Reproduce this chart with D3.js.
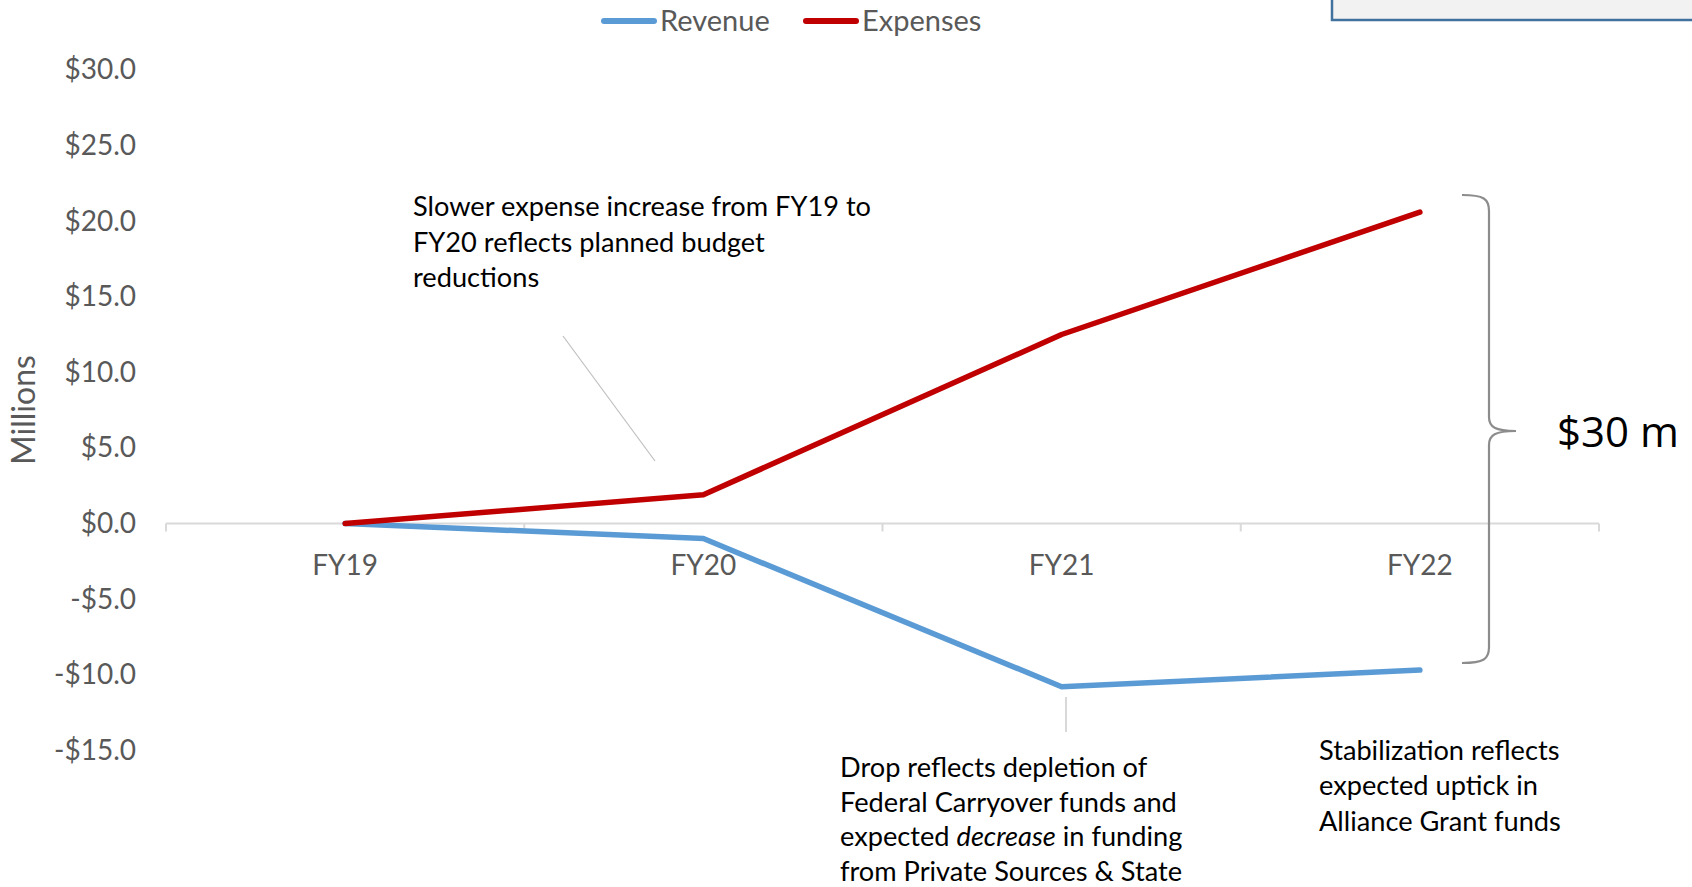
<!DOCTYPE html>
<html>
<head>
<meta charset="utf-8">
<script src="https://cdn.jsdelivr.net/npm/d3@7"></script>
<style>
  html, body { margin: 0; padding: 0; background: #fff; }
  svg { display: block; }
  text { font-family: "Lato", "Open Sans", sans-serif; }
</style>
</head>
<body>
<svg id="chart" width="1692" height="887"></svg>
<script>
// ---- data ----
const categories = ["FY19", "FY20", "FY21", "FY22"];
const revenue = [0.0, -1.0, -10.8, -9.7];
const expenses = [0.0, 1.9, 12.5, 20.6];
const yTicks = [30, 25, 20, 15, 10, 5, 0, -5, -10, -15];
const seriesNames = ["Revenue", "Expenses"];
const seriesColors = ["#5b9bd5", "#c00000"];
const noteTop = ["Slower expense increase from FY19 to", "FY20 reflects planned budget", "reductions"];
const noteDrop = [
  [["Drop reflects depletion of", false]],
  [["Federal Carryover funds and", false]],
  [["expected ", false], ["decrease", true], [" in funding", false]],
  [["from Private Sources & State", false]]
];
const noteStab = ["Stabilization reflects", "expected uptick in", "Alliance Grant funds"];
const bracketLabel = "$30 m";

// ---- layout ----
const svg = d3.select("#chart");
const x0 = 166, x1 = 1599;
const y = d3.scaleLinear().domain([-15, 30]).range([750.2, 70]);
const xBand = d3.scaleBand().domain(categories).range([x0, x1]);
const x = d3.scalePoint().domain(categories).range([x0, x1]).padding(0.5);

const axisColor = "#d9d9d9";
const labelColor = "#595959";
const noteSize = 27.2;

// top-right partial box
svg.append("rect")
  .attr("x", 1332).attr("y", -10).attr("width", 400).attr("height", 30)
  .attr("fill", "#f2f2f2").attr("stroke", "#41719c").attr("stroke-width", 2.5);

// y axis labels
const fmt = d => (d < 0 ? "-" : "") + "$" + Math.abs(d).toFixed(1);
const yAxis = d3.axisLeft(y).tickValues(yTicks).tickFormat(fmt).tickSize(0).tickPadding(0);
const gy = svg.append("g").attr("transform", "translate(136,0)").call(yAxis);
gy.select(".domain").remove();
gy.selectAll("text")
  .attr("fill", labelColor).attr("font-size", 28).style("font-family", "Lato, 'Open Sans', sans-serif");

// x axis (category axis at zero)
const gx = svg.append("g").attr("transform", `translate(0,${y(0)})`);
gx.append("line").attr("x1", x0).attr("x2", x1).attr("y1", 0).attr("y2", 0)
  .attr("stroke", axisColor).attr("stroke-width", 2);
const bounds = categories.map(c => xBand(c)).concat([x1]);
gx.selectAll("line.tick").data(bounds).enter().append("line")
  .attr("class", "tick")
  .attr("x1", d => d).attr("x2", d => d).attr("y1", 0).attr("y2", 8)
  .attr("stroke", axisColor).attr("stroke-width", 2);
gx.selectAll("text.cat").data(categories).enter().append("text")
  .attr("class", "cat")
  .attr("x", d => x(d)).attr("y", 52)
  .attr("text-anchor", "middle")
  .attr("fill", labelColor).attr("font-size", 28)
  .text(d => d);

// y title
svg.append("text")
  .attr("transform", "translate(35,410) rotate(-90)")
  .attr("text-anchor", "middle")
  .attr("fill", labelColor).attr("font-size", 32)
  .text("Millions");

// lines
const line = d3.line().x((d, i) => x(categories[i])).y(d => y(d));
[revenue, expenses].forEach((s, k) => {
  svg.append("path").datum(s)
    .attr("d", line)
    .attr("fill", "none")
    .attr("stroke", seriesColors[k])
    .attr("stroke-width", 5.5)
    .attr("stroke-linecap", "round")
    .attr("stroke-linejoin", "round");
});

// legend
const legendX = [604, 806];
seriesNames.forEach((n, k) => {
  const g = svg.append("g").attr("transform", `translate(${legendX[k]},21)`);
  g.append("line").attr("x1", 0).attr("x2", 50).attr("y1", 0).attr("y2", 0)
    .attr("stroke", seriesColors[k]).attr("stroke-width", 6).attr("stroke-linecap", "round");
  g.append("text").attr("x", 56).attr("y", 10)
    .attr("fill", labelColor).attr("font-size", 29).text(n);
});

// annotation: top note
const t1 = svg.append("text").attr("fill", "#000").attr("font-size", noteSize);
noteTop.forEach((l, i) => {
  t1.append("tspan").attr("x", 413).attr("y", 216 + i * 35.6).text(l);
});
svg.append("line")
  .attr("x1", 563).attr("y1", 336).attr("x2", 655).attr("y2", 461)
  .attr("stroke", "#bfbfbf").attr("stroke-width", 1.2);

// annotation: drop note
const t2 = svg.append("text").attr("fill", "#000").attr("font-size", noteSize);
noteDrop.forEach((parts, i) => {
  parts.forEach(([txt, it], j) => {
    const s = t2.append("tspan").text(txt).attr("font-style", it ? "italic" : "normal");
    if (j === 0) s.attr("x", 840).attr("y", 777 + i * 34.5);
  });
});
svg.append("line")
  .attr("x1", 1066).attr("y1", 697).attr("x2", 1066).attr("y2", 732)
  .attr("stroke", "#bfbfbf").attr("stroke-width", 1.2);

// annotation: stabilization note
const t3 = svg.append("text").attr("fill", "#000").attr("font-size", noteSize);
noteStab.forEach((l, i) => {
  t3.append("tspan").attr("x", 1319).attr("y", 760 + i * 35.4).text(l);
});

// curly bracket
const bx = 1489, bl = 1462, tip = 1516, bTop = 195, bBot = 663, bMid = 431;
const bp = `M${bl},${bTop} C${bx-5},${bTop} ${bx},${bTop+4} ${bx},${bTop+16}
  L${bx},${bMid-14} C${bx},${bMid-4} ${bx+6},${bMid} ${tip},${bMid}
  C${bx+6},${bMid} ${bx},${bMid+4} ${bx},${bMid+14}
  L${bx},${bBot-16} C${bx},${bBot-4} ${bx-5},${bBot} ${bl},${bBot}`;
svg.append("path").attr("d", bp).attr("fill", "none")
  .attr("stroke", "#8c8c8c").attr("stroke-width", 2.2);
svg.append("text").attr("x", 1557).attr("y", 447)
  .attr("fill", "#000").attr("font-size", 42)
  .style("font-family", "'Open Sans', sans-serif")
  .text(bracketLabel);
</script>
</body>
</html>
